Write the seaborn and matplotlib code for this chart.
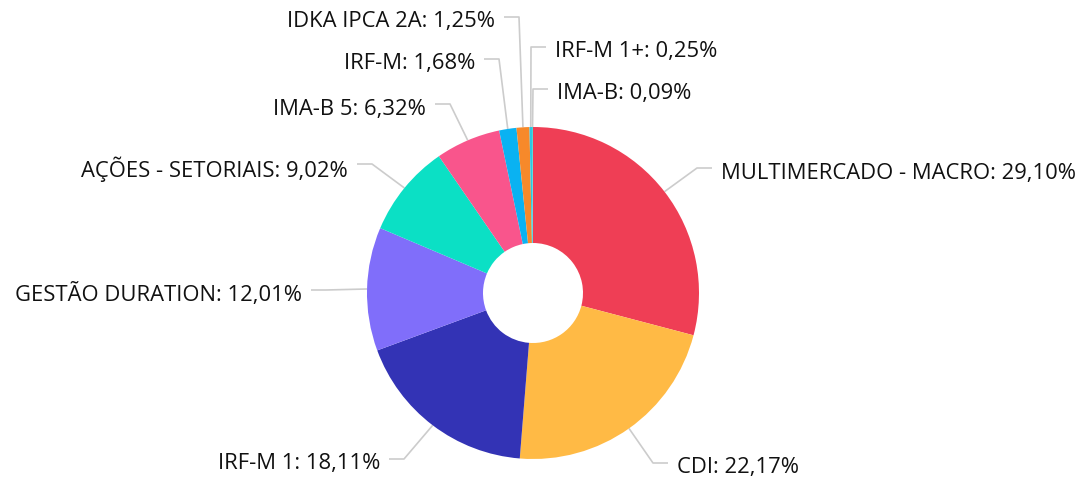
import numpy as np
import matplotlib
matplotlib.use("Agg")
import matplotlib.pyplot as plt
import seaborn as sns

sns.set_theme(style="white")
plt.rcParams['font.family'] = ['Open Sans', 'DejaVu Sans']

categories = ["MULTIMERCADO - MACRO", "CDI", "IRF-M 1", "GESTÃO DURATION",
              "AÇÕES - SETORIAIS", "IMA-B 5", "IRF-M", "IDKA IPCA 2A",
              "IRF-M 1+", "IMA-B"]
values = [29.10, 22.17, 18.11, 12.01, 9.02, 6.32, 1.68, 1.25, 0.25, 0.09]
colors = ["#EF3E55", "#FFBA45", "#3333B5", "#806EFA", "#0BE0C5",
          "#F9558C", "#0AB2F2", "#F7892A", "#2CC6E6", "#3DD6D0"]
palette = sns.color_palette(colors)

# layout (pixels from top-left): text anchor x, leader line y, alignment
label_pos = [(721, 168, "left"), (677, 463, "left"), (380, 459, "right"),
             (302, 290, "right"), (348, 164, "right"), (426, 104, "right"),
             (475, 59, "right"), (495, 17, "right"), (555, 47, "left"),
             (557, 89, "left")]

W, H = 1079, 480
fig = plt.figure(figsize=(W / 100, H / 100), dpi=100)
ax = fig.add_axes([0, 0, 1, 1])
ax.set_xlim(0, W)
ax.set_ylim(0, H)
ax.set_aspect("equal")
ax.axis("off")

cx, cy, R, r_in = 533, H - 293, 166, 50
wedges, _ = ax.pie(values, colors=palette, startangle=90, counterclock=False,
                   center=(cx, cy), radius=R,
                   wedgeprops=dict(width=R - r_in, linewidth=0))
ax.set_xlim(0, W)
ax.set_ylim(0, H)

def fmt(v):
    return f"{v:.2f}".replace(".", ",") + "%"

for w, cat, v, (tx, ly_px, ha) in zip(wedges, categories, values, label_pos):
    ang = np.deg2rad((w.theta1 + w.theta2) / 2)
    ex, ey = cx + R * np.cos(ang), cy + R * np.sin(ang)
    ly = H - ly_px
    if ha == "left":
        x1, x2 = tx - 9, tx - 24
    else:
        x1, x2 = tx + 9, tx + 24
    ax.plot([x1, x2, ex], [ly, ly, ey], color="#cccccc", lw=1.2,
            solid_capstyle="butt", zorder=0)
    ax.text(tx, ly - 5, f"{cat}: {fmt(v)}", ha=ha, va="center", fontsize=15.8,
            color="#111111")

fig.savefig("out.png", dpi=100)
